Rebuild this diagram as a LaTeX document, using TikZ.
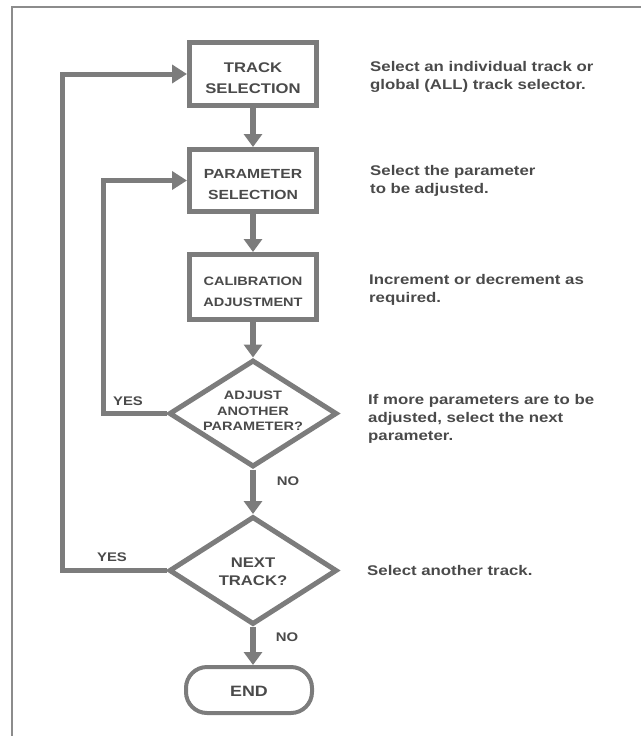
\documentclass[tikz,border=0pt]{standalone}
\usepackage{fontspec}
\usepackage{graphicx}
\setmainfont{Liberation Sans}
\newfontfamily\wf[UprightFont={* Bold}]{Liberation Sans}
\newcommand\wtxt[3][1.19]{\scalebox{#1}[1]{\begin{tabular}[t]{@{}#2@{}}#3\end{tabular}}}
\usetikzlibrary{arrows.meta,shapes.geometric}
\definecolor{ink}{HTML}{7C7C7C}
\definecolor{txt}{HTML}{4A4A4A}
\definecolor{framec}{HTML}{8C8C8C}
\begin{document}
\begin{tikzpicture}[x=1pt,y=-1pt,
  box/.style={draw=ink, line width=5pt, fill=white, minimum width=127pt, minimum height=63pt,
    text height=23.5pt, text depth=27.3pt, text=txt, inner sep=0pt},
  dia/.style={draw=ink, line width=5pt, shape=diamond, minimum width=168pt, minimum height=107pt,
    inner sep=0pt, line join=miter},
  dlbl/.style={text=txt, inner sep=0pt},
  endbox/.style={draw=ink, line width=4pt, rounded corners=21pt, minimum width=126pt, minimum height=46pt,
    font=\wf\fontsize{15}{21}\selectfont, text=txt, inner sep=0pt},
  flow/.style={draw=ink, line width=6pt, -{Triangle[width=18pt,length=13pt]}},
  back/.style={draw=ink, line width=5pt, line join=miter, -{Triangle[width=18pt,length=15pt]}},
  note/.style={anchor=base west, font=\wf\fontsize{14}{18}\selectfont, text=txt, inner sep=0pt},
  yn/.style={font=\wf\fontsize{12.5}{16}\selectfont, text=txt, inner sep=0pt},
  framel/.style={draw=framec, line width=1.4pt}
]
\useasboundingbox (0,0) rectangle (641,736);
\draw[framel] (12,736) -- (12,7) -- (641,7);

\node[box, font=\wf\fontsize{14}{21}\selectfont] (track) at (253,74) {\wtxt{c}{TRACK\\SELECTION}};
\node[box, minimum height=62pt, font=\wf\fontsize{13.2}{21}\selectfont] (param) at (253,180.5) {\wtxt{c}{PARAMETER\\SELECTION}};
\node[box, minimum height=65pt, font=\wf\fontsize{12.2}{21}\selectfont] (calib) at (253,287) {\wtxt{c}{CALIBRATION\\ADJUSTMENT}};
\node[dia, label={[dlbl, font=\wf\fontsize{12.2}{15.5}\selectfont, yshift=1.5pt]center:{\wtxt{c}{ADJUST\\ANOTHER\\PARAMETER?}}}] (d1) at (253,413.5) {};
\node[dia, minimum height=108pt, label={[dlbl, font=\wf\fontsize{14}{18}\selectfont, yshift=-2pt]center:{\wtxt{c}{NEXT\\TRACK?}}}] (d2) at (253,570.5) {};
\node[endbox, text height=17pt, text depth=4pt] (endn) at (249,690) {\wtxt{c}{END}};

\draw[flow] (track.south) -- (param.north);
\draw[flow] (param.south) -- (calib.north);
\draw[flow] (calib.south) -- (d1.north);
\draw[flow] (d1.south) -- (d2.north);
\draw[flow] (d2.south) -- (d2.south |- endn.north);

\coordinate (l1) at (103,0);
\coordinate (l2) at (62,0);
\draw[back] (d1.west) -- (d1.west -| l1) |- (param.west);
\draw[back] (d2.west) -- (d2.west -| l2) |- (track.west);

\node[yn] (yes1) at (128,402) {\wtxt{c}{YES}};
\node[yn] (yes2) at (112,558) {\wtxt{c}{YES}};
\node[yn] (no1) at (288,482) {\wtxt{c}{NO}};
\node[yn] (no2) at (287,638) {\wtxt{c}{NO}};

\node[note] (n1) at (370,71) {\wtxt[1.2]{l}{Select an individual track or\\global (ALL) track selector.}};
\node[note] (n2) at (370,175) {\wtxt[1.2]{l}{Select the parameter\\to be adjusted.}};
\node[note] (n3) at (369,284) {\wtxt[1.2]{l}{Increment or decrement as\\required.}};
\node[note] (n4) at (368,404) {\wtxt[1.2]{l}{If more parameters are to be\\adjusted, select the next\\parameter.}};
\node[note] (n5) at (367,575) {\wtxt[1.2]{l}{Select another track.}};
\end{tikzpicture}
\end{document}
